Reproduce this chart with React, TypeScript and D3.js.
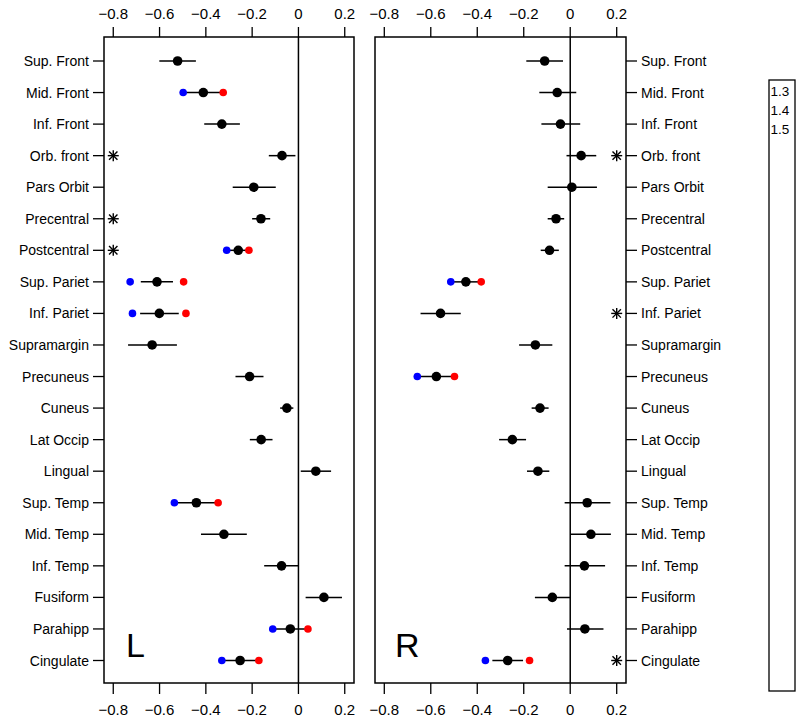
import React from "react";
import * as d3 from "d3";

const regions = [
  "Sup. Front", "Mid. Front", "Inf. Front", "Orb. front", "Pars Orbit",
  "Precentral", "Postcentral", "Sup. Pariet", "Inf. Pariet", "Supramargin",
  "Precuneus", "Cuneus", "Lat Occip", "Lingual", "Sup. Temp",
  "Mid. Temp", "Inf. Temp", "Fusiform", "Parahipp", "Cingulate",
];

const xTicks = [-0.8, -0.6, -0.4, -0.2, 0, 0.2];
const xDomain: [number, number] = [-0.84, 0.24];
const legendLabels = ["1.3", "1.4", "1.5"];

// Left hemisphere
const leftEst = [-0.522, -0.411, -0.331, -0.071, -0.193, -0.162, -0.26, -0.611, -0.601, -0.632, -0.211, -0.05, -0.161, 0.075, -0.441, -0.322, -0.073, 0.11, -0.035, -0.252];
const leftLo = [-0.601, -0.498, -0.407, -0.128, -0.284, -0.2, -0.31, -0.681, -0.684, -0.736, -0.272, -0.079, -0.21, 0.01, -0.536, -0.421, -0.148, 0.031, -0.111, -0.331];
const leftHi = [-0.443, -0.325, -0.253, -0.013, -0.098, -0.122, -0.214, -0.542, -0.517, -0.525, -0.151, -0.022, -0.112, 0.141, -0.347, -0.223, 0.0, 0.188, 0.041, -0.171];
const leftBlue = [null, -0.498, null, null, null, null, -0.31, -0.727, -0.717, null, null, null, null, null, -0.536, null, null, null, -0.111, -0.331];
const leftRed = [null, -0.325, null, null, null, null, -0.214, -0.496, -0.486, null, null, null, null, null, -0.347, null, null, null, 0.041, -0.171];
const leftStars = ["Orb. front", "Precentral", "Postcentral"];
const leftStarX = -0.8;

// Right hemisphere
const rightEst = [-0.11, -0.056, -0.042, 0.047, 0.007, -0.061, -0.089, -0.449, -0.558, -0.15, -0.576, -0.13, -0.249, -0.139, 0.073, 0.089, 0.061, -0.077, 0.063, -0.269];
const rightLo = [-0.189, -0.133, -0.124, -0.016, -0.097, -0.097, -0.127, -0.514, -0.644, -0.22, -0.658, -0.166, -0.306, -0.186, -0.024, 0.001, -0.024, -0.152, -0.014, -0.335];
const rightHi = [-0.031, 0.026, 0.043, 0.112, 0.115, -0.026, -0.049, -0.383, -0.471, -0.077, -0.498, -0.093, -0.19, -0.09, 0.173, 0.175, 0.15, -0.001, 0.143, -0.203];
const rightBlue = [null, null, null, null, null, null, null, -0.514, null, null, -0.658, null, null, null, null, null, null, null, null, -0.365];
const rightRed = [null, null, null, null, null, null, null, -0.383, null, null, -0.498, null, null, null, null, null, null, null, null, -0.175];
const rightStars = ["Orb. front", "Inf. Pariet", "Cingulate"];
const rightStarX = 0.2;

const FONT = "'Liberation Sans', Arial, Helvetica, sans-serif";
const TOP = 37;
const BOTTOM = 683;

const yScale = d3.scalePoint<string>().domain(regions).range([61, 660.5]);

type PanelProps = {
  x0: number;
  x1: number;
  est: number[];
  lo: number[];
  hi: number[];
  blue: (number | null)[];
  red: (number | null)[];
  stars: string[];
  starX: number;
  side: "left" | "right";
  letter: string;
  letterX: number;
};

function Star({ cx, cy }: { cx: number; cy: number }) {
  const a = 5.5;
  const b = 4.2;
  return (
    <g stroke="#000" strokeWidth={1.4}>
      <line x1={cx - a} y1={cy} x2={cx + a} y2={cy} />
      <line x1={cx} y1={cy - a} x2={cx} y2={cy + a} />
      <line x1={cx - b} y1={cy - b} x2={cx + b} y2={cy + b} />
      <line x1={cx - b} y1={cy + b} x2={cx + b} y2={cy - b} />
    </g>
  );
}

function Panel(p: PanelProps) {
  const x = d3.scaleLinear().domain(xDomain).range([p.x0, p.x1]);
  const tickLen = 11;
  return (
    <g>
      {/* box */}
      <rect x={p.x0} y={TOP} width={p.x1 - p.x0} height={BOTTOM - TOP} fill="none" stroke="#000" strokeWidth={1.5} />
      {/* zero line */}
      <line x1={x(0)} x2={x(0)} y1={TOP} y2={BOTTOM} stroke="#000" strokeWidth={1.5} />
      {/* x axes */}
      {xTicks.map((t) => (
        <g key={t}>
          <line x1={x(t)} x2={x(t)} y1={TOP} y2={TOP - 10} stroke="#000" strokeWidth={1.3} />
          <line x1={x(t)} x2={x(t)} y1={BOTTOM} y2={BOTTOM + 11} stroke="#000" strokeWidth={1.3} />
          <text x={x(t)} y={19} textAnchor="middle" fontSize={15} fontFamily={FONT}>
            {t === 0 ? "0" : d3.format(".1f")(t).replace("-", "\u2212")}
          </text>
          <text x={x(t)} y={715} textAnchor="middle" fontSize={15} fontFamily={FONT}>
            {t === 0 ? "0" : d3.format(".1f")(t).replace("-", "\u2212")}
          </text>
        </g>
      ))}
      {/* y axis */}
      {regions.map((r) => {
        const y = yScale(r)!;
        const xa = p.side === "left" ? p.x0 : p.x1;
        const xb = p.side === "left" ? p.x0 - tickLen : p.x1 + tickLen;
        return (
          <g key={r}>
            <line x1={xa} x2={xb} y1={y} y2={y} stroke="#000" strokeWidth={1.3} />
            <text
              x={p.side === "left" ? p.x0 - 15 : p.x1 + 15}
              y={y}
              dy="0.36em"
              textAnchor={p.side === "left" ? "end" : "start"}
              fontSize={14}
              fontFamily={FONT}
            >
              {r}
            </text>
          </g>
        );
      })}
      {/* intervals and points */}
      {regions.map((r, i) => {
        const y = yScale(r)!;
        const b = p.blue[i];
        const rd = p.red[i];
        return (
          <g key={r}>
            <line x1={x(p.lo[i])} x2={x(p.hi[i])} y1={y} y2={y} stroke="#000" strokeWidth={1.5} />
            {b !== null && <circle cx={x(b)} cy={y} r={3.8} fill="#0000ff" />}
            {rd !== null && <circle cx={x(rd)} cy={y} r={3.8} fill="#ff0000" />}
            <circle cx={x(p.est[i])} cy={y} r={4.8} fill="#000" />
          </g>
        );
      })}
      {p.stars.map((s) => (
        <Star key={s} cx={x(p.starX)} cy={yScale(s)!} />
      ))}
      <text x={p.letterX} y={657} fontSize={34} fontFamily={FONT}>
        {p.letter}
      </text>
    </g>
  );
}

export default function App() {
  return (
    <svg
      width={800}
      height={721}
      style={{ position: "absolute", left: 0, top: 0, background: "#fff" }}
    >
      <rect x={0} y={0} width={800} height={721} fill="#fff" />
      <Panel
        x0={104}
        x1={354}
        est={leftEst}
        lo={leftLo}
        hi={leftHi}
        blue={leftBlue}
        red={leftRed}
        stars={leftStars}
        starX={leftStarX}
        side="left"
        letter="L"
        letterX={126}
      />
      <Panel
        x0={375}
        x1={626}
        est={rightEst}
        lo={rightLo}
        hi={rightHi}
        blue={rightBlue}
        red={rightRed}
        stars={rightStars}
        starX={rightStarX}
        side="right"
        letter="R"
        letterX={395}
      />
      <rect x={769} y={80} width={26} height={611} fill="none" stroke="#000" strokeWidth={1.3} />
      {legendLabels.map((l, i) => (
        <text key={l} x={770.5} y={96 + i * 19} fontSize={13.5} fontFamily={FONT}>
          {l}
        </text>
      ))}
    </svg>
  );
}
